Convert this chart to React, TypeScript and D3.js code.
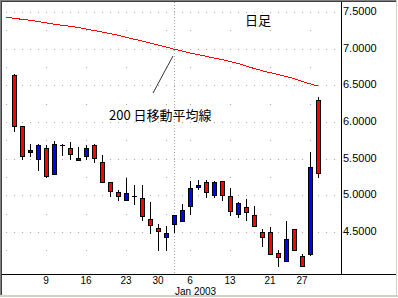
import React from "react";
import * as d3 from "d3";

// ---- data ----
const dates = [
  "2002-12-02", "2002-12-03", "2002-12-04", "2002-12-05", "2002-12-06",
  "2002-12-09", "2002-12-10", "2002-12-11", "2002-12-12", "2002-12-13",
  "2002-12-16", "2002-12-17", "2002-12-18", "2002-12-19", "2002-12-20",
  "2002-12-23", "2002-12-24", "2002-12-26", "2002-12-27", "2002-12-30",
  "2002-12-31", "2003-01-02", "2003-01-03", "2003-01-06", "2003-01-07",
  "2003-01-08", "2003-01-09", "2003-01-10", "2003-01-13", "2003-01-14",
  "2003-01-15", "2003-01-16", "2003-01-17", "2003-01-21", "2003-01-22",
  "2003-01-23", "2003-01-24", "2003-01-27", "2003-01-28", "2003-01-29",
];

const openV: (number | null)[] = [
  null, 6.64, 5.95, 5.59, 5.49, 5.64, 5.29, 5.69, 5.64, 5.48,
  5.54, 5.68, 5.45, 5.18, 5.04, 4.94, 4.99, 4.96, 4.68, 4.55,
  4.43, 4.61, 4.65, 4.85, 5.11, 5.18, 5.0, 5.19, 4.99, 4.75,
  4.84, 4.73, 4.5, 4.5, 4.22, 4.1, 4.54, 4.17, 4.2, 6.3,
];
const highV: (number | null)[] = [
  null, 6.66, 5.95, 5.7, 5.7, 5.68, 5.74, 5.7, 5.73, 5.66,
  5.69, 5.7, 5.55, 5.18, 5.07, 5.24, 5.14, 5.14, 4.91, 4.61,
  4.58, 4.73, 4.88, 5.2, 5.21, 5.21, 5.19, 5.19, 5.1, 4.91,
  4.95, 4.86, 4.54, 4.57, 4.26, 4.65, 4.54, 4.2, 5.59, 6.34,
];
const lowV: (number | null)[] = [
  null, 5.88, 5.49, 5.53, 5.34, 5.25, 5.29, 5.55, 5.5, 5.48,
  5.5, 5.45, 5.18, 4.99, 4.93, 4.94, 4.88, 4.66, 4.49, 4.26,
  4.25, 4.5, 4.65, 4.75, 5.09, 4.98, 4.98, 4.94, 4.73, 4.7,
  4.66, 4.58, 4.31, 4.2, 4.04, 4.1, 4.26, 4.03, 4.19, 5.25,
];
const closeV: (number | null)[] = [
  null, 5.94, 5.54, 5.62, 5.69, 5.27, 5.7, 5.69, 5.57, 5.51,
  5.65, 5.51, 5.18, 5.06, 4.99, 5.03, 4.99, 4.72, 4.6, 4.52,
  4.48, 4.73, 4.8, 5.1, 5.14, 5.04, 5.18, 5.0, 4.79, 4.9,
  4.77, 4.58, 4.43, 4.2, 4.16, 4.4, 4.26, 4.04, 5.38, 5.3,
];
const ma200 = [
  7.428, 7.414, 7.4, 7.387, 7.37, 7.353, 7.334, 7.319, 7.305, 7.289,
  7.268, 7.248, 7.227, 7.207, 7.182, 7.156, 7.129, 7.105, 7.077, 7.05,
  7.023, 6.993, 6.968, 6.941, 6.918, 6.896, 6.873, 6.851, 6.825, 6.798,
  6.764, 6.73, 6.7, 6.673, 6.648, 6.62, 6.592, 6.552, 6.521, 6.491,
];

const yMajorTicks = [4.5, 5.0, 5.5, 6.0, 6.5, 7.0, 7.5];
const yMinorTicks = [4.25, 4.75, 5.25, 5.75, 6.25, 6.75, 7.25];
const xTickDates = [
  "2002-12-09", "2002-12-16", "2002-12-23", "2002-12-30",
  "2003-01-06", "2003-01-13", "2003-01-21", "2003-01-27",
];
const gridDotDates = [
  "2002-12-02", "2002-12-09", "2002-12-16", "2002-12-23", "2002-12-31",
  "2003-01-06", "2003-01-13", "2003-01-21", "2003-01-28",
];
const monthStart = "2003-01-02";
const monthLabel = "Jan 2003";
const maLabel = "200 日移動平均線";
const periodLabel = "日足";

// ---- layout ----
const W = 398;
const H = 298;
const plotLeft = 2;
const plotRight = 341;
const plotTop = 2;
const plotBottom = 274;

const latin = "'Liberation Sans', Arial, sans-serif";
const cjk = "'Noto Sans CJK JP', 'Noto Sans CJK SC', sans-serif";

export default function App() {
  const x = d3.scaleLinear().domain([0, dates.length - 1]).range([6, 318]);
  const y = d3.scaleLinear().domain([7.5, 4.5]).range([12, 232]);
  const parse = d3.timeParse("%Y-%m-%d");
  const fmtDay = d3.timeFormat("%-d");
  const fmtY = d3.format(".4f");
  const xi = (d: string) => x(dates.indexOf(d));
  const px = (v: number) => Math.round(v) + 0.5;

  const maLine = d3
    .line<number>()
    .x((_, i) => x(i))
    .y((v) => y(v))(ma200) as string;

  const candles = dates
    .map((d, i) => ({ d, i, o: openV[i], h: highV[i], l: lowV[i], c: closeV[i] }))
    .filter((k) => k.o != null);

  const mx = xi(monthStart);

  return (
    <svg
      width={W}
      height={H}
      style={{ position: "absolute", left: 0, top: 0, background: "#fff" }}
    >
      <rect x={0} y={0} width={W} height={H} fill="#fff" />
      <defs>
        <clipPath id="plot">
          <rect x={plotLeft} y={plotTop} width={plotRight - plotLeft} height={plotBottom - plotTop} />
        </clipPath>
      </defs>

      <g clipPath="url(#plot)">
        {/* major dotted gridlines */}
        {yMajorTicks.map((t) => (
          <line
            key={"M" + t}
            x1={-2}
            x2={plotRight}
            y1={px(y(t))}
            y2={px(y(t))}
            stroke="#a8a8a8"
            strokeWidth={1}
            strokeDasharray="1 7"
          />
        ))}
        {/* minor sparse grid dots */}
        {yMinorTicks.map((t) =>
          gridDotDates.map((d) => (
            <rect
              key={"m" + t + d}
              x={Math.round(xi(d))}
              y={Math.round(y(t))}
              width={1}
              height={1}
              fill="#a8a8a8"
            />
          ))
        )}
        {/* month boundary */}
        <line
          x1={px(mx)}
          x2={px(mx)}
          y1={plotTop}
          y2={plotBottom}
          stroke="#a8a8a8"
          strokeWidth={1}
          strokeDasharray="1 2"
        />

        {/* MA line */}
        <path d={maLine} fill="none" stroke="#ff0000" strokeWidth={1} shapeRendering="crispEdges" />

        {/* candles */}
        {candles.map((k) => {
          const cx = Math.round(x(k.i));
          const o = k.o as number;
          const c = k.c as number;
          const yHi = Math.round(y(k.h as number));
          const yLo = Math.round(y(k.l as number));
          const yTop = Math.round(y(Math.max(o, c)));
          const yBot = Math.round(y(Math.min(o, c)));
          const fill = c > o ? "#0000ff" : "#ff0000";
          return (
            <g key={k.d}>
              <line x1={cx + 0.5} x2={cx + 0.5} y1={yHi} y2={yLo + 1} stroke="#000" strokeWidth={1} />
              {o === c ? (
                <line x1={cx - 2} x2={cx + 3} y1={yTop + 0.5} y2={yTop + 0.5} stroke="#000" strokeWidth={1} />
              ) : (
                <rect
                  x={cx - 1.5}
                  y={yTop + 0.5}
                  width={4}
                  height={Math.max(1, yBot - yTop)}
                  fill={fill}
                  stroke="#000"
                  strokeWidth={1}
                />
              )}
            </g>
          );
        })}

        {/* annotation */}
        <line x1={153} y1={93} x2={173} y2={56} stroke="#333" strokeWidth={1} />
        <text x={109} y={120} fontFamily={cjk} fontSize={13} fill="#000">
          {maLabel}
        </text>
        <text x={245} y={25} fontFamily={cjk} fontSize={13} fill="#000">
          {periodLabel}
        </text>
      </g>

      {/* axes */}
      <line x1={plotLeft} x2={396} y1={plotBottom + 0.5} y2={plotBottom + 0.5} stroke="#000" strokeWidth={1} />
      <line x1={plotRight + 0.5} x2={plotRight + 0.5} y1={plotTop} y2={plotBottom} stroke="#000" strokeWidth={1} />

      {yMajorTicks.map((t) => (
        <text
          key={"yl" + t}
          x={343}
          y={y(t)}
          dominantBaseline="middle"
          fontFamily={latin}
          fontSize={11}
          fill="#000"
        >
          {fmtY(t)}
        </text>
      ))}

      {xTickDates.map((d) => (
        <text
          key={"xl" + d}
          x={xi(d)}
          y={284}
          textAnchor="middle"
          fontFamily={latin}
          fontSize={10}
          fill="#000"
        >
          {fmtDay(parse(d) as Date)}
        </text>
      ))}
      <text x={mx + 1} y={295.3} fontFamily={latin} fontSize={10} fill="#000">
        {monthLabel}
      </text>

      {/* window frame */}
      <rect x={0} y={0} width={W} height={1} fill="#808080" />
      <rect x={0} y={1} width={W - 2} height={1} fill="#404040" />
      <rect x={0} y={0} width={1} height={H} fill="#808080" />
      <rect x={1} y={1} width={1} height={H - 2} fill="#404040" />
      <rect x={W - 2} y={0} width={1} height={H} fill="#d4d0c8" />
      <rect x={W - 1} y={0} width={1} height={H} fill="#ffffff" />
      <rect x={0} y={H - 3} width={W} height={2} fill="#d4d0c8" />
      <rect x={0} y={H - 1} width={W} height={1} fill="#ffffff" />
    </svg>
  );
}
